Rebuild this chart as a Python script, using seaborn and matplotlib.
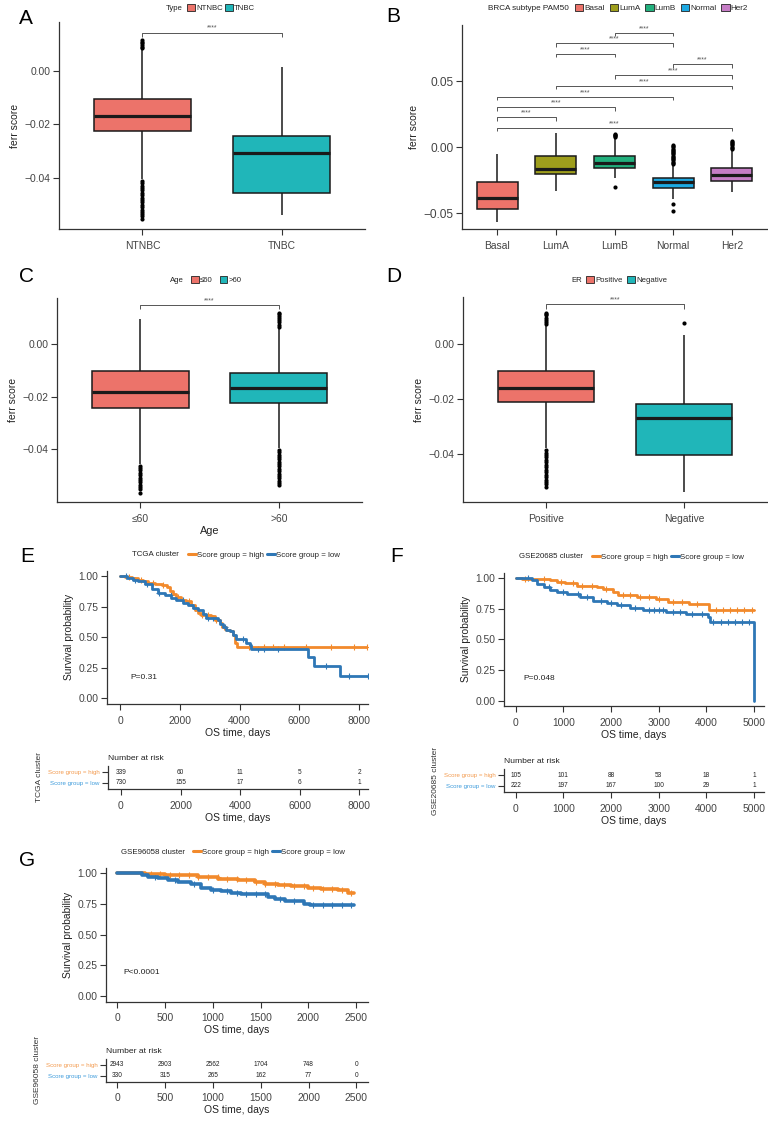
"""
Ferroptosis score across clinical groups and survival by score group.
Box panels A-D, Kaplan-Meier panels E-G with risk tables.
"""

# Libraries
import numpy as np
import pandas as pd
import seaborn as sns
import matplotlib.pyplot as plt
from matplotlib.patches import Patch
from matplotlib.lines import Line2D
from matplotlib.ticker import FuncFormatter

# Seaborn
sns.set_theme(style="ticks")
plt.rcParams["font.family"] = ["Liberation Sans", "DejaVu Sans"]

# ---------------------------------
# Data
# ---------------------------------
# A: TNBC status
type_groups = ["NTNBC", "TNBC"]
type_whislo = [-0.0405, -0.0540]
type_q1 = [-0.0225, -0.0458]
type_median = [-0.0169, -0.0307]
type_q3 = [-0.0105, -0.0244]
type_whishi = [0.0078, 0.0016]
type_outliers = {
    "NTNBC": [0.0086, 0.0092, 0.0098, 0.0104, 0.0110, 0.0116,
              -0.0412, -0.0421, -0.0430, -0.0439, -0.0448, -0.0457,
              -0.0466, -0.0475, -0.0484, -0.0493, -0.0502, -0.0511,
              -0.0520, -0.0529, -0.0538, -0.0546, -0.0556],
    "TNBC": [],
}

# B: PAM50 subtype
pam50_groups = ["Basal", "LumA", "LumB", "Normal", "Her2"]
pam50_whislo = [-0.0565, -0.0333, -0.0237, -0.0396, -0.0339]
pam50_q1 = [-0.0470, -0.0207, -0.0157, -0.0308, -0.0258]
pam50_median = [-0.0384, -0.0167, -0.0121, -0.0265, -0.0210]
pam50_q3 = [-0.0265, -0.0068, -0.0066, -0.0237, -0.0161]
pam50_whishi = [-0.0053, 0.0108, 0.0060, -0.0135, -0.0020]
pam50_outliers = {
    "LumB": [0.0076, 0.0082, 0.0088, 0.0094, 0.0099, -0.0300],
    "Normal": [-0.0128, -0.0119, -0.0110, -0.0101, -0.0092, -0.0083,
               -0.0074, -0.0065, -0.0056, -0.0047, -0.0038, -0.0029,
               -0.0020, -0.0011, -0.0002, 0.0007, 0.0014,
               -0.0432, -0.0483],
    "Her2": [-0.0012, -0.0004, 0.0004, 0.0012, 0.0020, 0.0028,
             0.0036, 0.0043],
}
pam50_pairs = [("Basal", "Her2"), ("Basal", "LumA"), ("Basal", "LumB"),
               ("Basal", "Normal"), ("LumA", "Her2"), ("LumB", "Her2"),
               ("Normal", "Her2"), ("LumA", "LumB"), ("LumA", "Normal"),
               ("LumB", "Normal")]
pam50_pair_y = [0.0146, 0.0225, 0.0301, 0.0381, 0.0462, 0.0543,
                0.0626, 0.0705, 0.0786, 0.0866]

# C: age
age_groups = ["≤60", ">60"]
age_whislo = [-0.0455, -0.0395]
age_q1 = [-0.0244, -0.0225]
age_median = [-0.0183, -0.0166]
age_q3 = [-0.0101, -0.0109]
age_whishi = [0.0097, 0.0062]
age_outliers = {
    "≤60": [-0.0462, -0.0471, -0.0480, -0.0489, -0.0498, -0.0507,
            -0.0516, -0.0525, -0.0534, -0.0543, -0.0551, -0.0564],
    ">60": [0.0066, 0.0074, 0.0082, 0.0090, 0.0098, 0.0106, 0.0113,
            0.0117, -0.0402, -0.0411, -0.0420, -0.0429, -0.0438,
            -0.0447, -0.0456, -0.0465, -0.0474, -0.0483, -0.0492,
            -0.0501, -0.0510, -0.0519, -0.0528, -0.0535],
}

# D: ER status
er_groups = ["Positive", "Negative"]
er_whislo = [-0.0380, -0.0539]
er_q1 = [-0.0211, -0.0403]
er_median = [-0.0160, -0.0270]
er_q3 = [-0.0098, -0.0218]
er_whishi = [0.0068, 0.0033]
er_outliers = {
    "Positive": [0.0072, 0.0080, 0.0088, 0.0096, 0.0104, 0.0110, 0.0114,
                 -0.0386, -0.0395, -0.0404, -0.0413, -0.0422, -0.0431,
                 -0.0440, -0.0449, -0.0458, -0.0467, -0.0476, -0.0485,
                 -0.0494, -0.0503, -0.0511, -0.0519],
    "Negative": [0.0076],
}

# E: TCGA survival curves
tcga_high_t = [0, 167, 389, 611, 778, 944, 1167, 1389, 1556, 1667, 1778,
               1889, 2056, 2222, 2367, 2500, 2611, 2722, 3056, 3167, 3333,
               3411, 3556, 3667, 3778, 3833, 3922, 8333]
tcga_high_s = [1.0, 0.995, 0.984, 0.965, 0.956, 0.943, 0.935, 0.924, 0.907,
               0.880, 0.853, 0.826, 0.807, 0.793, 0.760, 0.725, 0.698, 0.678,
               0.670, 0.643, 0.616, 0.580, 0.561, 0.548, 0.520, 0.452, 0.424,
               0.424]
tcga_high_cens = [300, 700, 1100, 1450, 1950, 2300, 2750, 2950, 3200, 3480,
                  4300, 4833, 5111, 5500, 6222, 7056, 7833, 8278]
tcga_low_t = [0, 222, 444, 611, 833, 1056, 1278, 1500, 1722, 1889, 2111,
              2278, 2444, 2611, 2778, 2889, 3278, 3333, 3444, 3556, 3667,
              3778, 3867, 4222, 4333, 4389, 6300, 6478, 7367, 8333]
tcga_low_s = [1.0, 0.986, 0.970, 0.956, 0.932, 0.891, 0.864, 0.842, 0.820,
              0.801, 0.782, 0.760, 0.738, 0.719, 0.692, 0.657, 0.643, 0.608,
              0.580, 0.561, 0.548, 0.520, 0.488, 0.452, 0.433, 0.403, 0.335,
              0.267, 0.180, 0.180]
tcga_low_cens = [200, 500, 900, 1300, 1700, 2100, 2500, 2950, 3100, 3500,
                 4100, 4600, 4833, 5278, 6900, 7667, 8300]
tcga_risk_times = [0, 2000, 4000, 6000, 8000]
tcga_risk_high = [339, 60, 11, 5, 2]
tcga_risk_low = [730, 155, 17, 6, 1]

# F: GSE20685 survival curves
g206_high_t = [0, 139, 729, 868, 1042, 1285, 1701, 1840, 2049, 2153, 2535,
               2951, 3194, 3646, 4049, 5000]
g206_high_s = [1.0, 0.992, 0.986, 0.973, 0.959, 0.940, 0.932, 0.912, 0.890,
               0.863, 0.849, 0.827, 0.803, 0.786, 0.740, 0.740]
g206_high_cens = [200, 600, 950, 1200, 1400, 1600, 1900, 2250, 2400, 2600,
                  2800, 3000, 3300, 3500, 3800, 4200, 4350, 4500, 4650, 4800,
                  4950]
g206_low_t = [0, 347, 451, 590, 729, 868, 1076, 1354, 1632, 1910, 2118,
              2396, 2674, 3160, 3576, 4028, 4076, 5000]
g206_low_s = [1.0, 0.986, 0.953, 0.926, 0.904, 0.888, 0.871, 0.844, 0.816,
              0.795, 0.778, 0.759, 0.740, 0.723, 0.707, 0.685, 0.644, 0.0]
g206_low_cens = [250, 700, 1000, 1300, 1500, 1800, 2000, 2200, 2500, 2800,
                 2900, 3000, 3100, 3300, 3450, 3700, 3900, 4150, 4300, 4450,
                 4600, 4750, 4900]
g206_risk_times = [0, 1000, 2000, 3000, 4000, 5000]
g206_risk_high = [105, 101, 88, 53, 18, 1]
g206_risk_low = [222, 197, 167, 100, 29, 1]

# G: GSE96058 survival curves
g960_high_t = [0, 289, 498, 672, 846, 1055, 1264, 1438, 1543, 1682, 1821,
               1995, 2134, 2309, 2396, 2413, 2476]
g960_high_s = [1.0, 0.997, 0.989, 0.984, 0.970, 0.957, 0.943, 0.929, 0.916,
               0.902, 0.894, 0.883, 0.875, 0.867, 0.861, 0.840, 0.840]
g960_high_cens = [350, 450, 550, 650, 750, 850, 950, 1050, 1150, 1250, 1350,
                  1450, 1550, 1650, 1750, 1850, 1950, 2050, 2150, 2250, 2350,
                  2450]
g960_low_t = [0, 254, 324, 428, 533, 637, 776, 881, 985, 1090, 1194, 1299,
              1577, 1647, 1751, 1960, 2013, 2483]
g960_low_s = [1.0, 0.984, 0.970, 0.962, 0.948, 0.929, 0.910, 0.883, 0.867,
              0.853, 0.840, 0.829, 0.807, 0.793, 0.774, 0.753, 0.739, 0.739]
g960_low_cens = [400, 600, 800, 1000, 1150, 1250, 1350, 1450, 1550, 1700,
                 1850, 2050, 2150, 2250, 2350, 2450]
g960_risk_times = [0, 500, 1000, 1500, 2000, 2500]
g960_risk_high = [2943, 2903, 2562, 1704, 748, 0]
g960_risk_low = [330, 315, 265, 162, 77, 0]

# Colours
red, teal = "#EC736A", "#20B6B9"
pam50_palette = ["#EC736A", "#9E9E1C", "#22B07D", "#1DA9E2", "#C67DC6"]
orange, blue = "#F28A2C", "#2E77B6"
orange_txt, blue_txt = "#F39A4E", "#3D9BDB"

# ---------------------------------
# Methods
# ---------------------------------
W, H = 768, 1121
fig = plt.figure(figsize=(W / 100, H / 100), dpi=100)


def fy(y):
    """Pixel row to figure fraction."""
    return 1 - y / H


def px_axes(left, top, right, bottom):
    return fig.add_axes([left / W, fy(bottom), (right - left) / W,
                         (bottom - top) / H])


def style_axes(ax, ytick_fs=7.4, xtick_fs=7.4):
    sns.despine(ax=ax)
    for s in ["left", "bottom"]:
        ax.spines[s].set_linewidth(0.9)
        ax.spines[s].set_color("#333333")
    ax.tick_params(length=4.3, width=0.8, color="#333333",
                   labelcolor="#444444")
    ax.tick_params(axis="y", labelsize=ytick_fs, pad=2)
    ax.tick_params(axis="x", labelsize=xtick_fs, pad=4)


minus_fmt = FuncFormatter(lambda x, pos: f"{x:.2f}".replace("-", "\u2212"))


def box_panel(ax, groups, whislo, q1, med, q3, whishi, outliers, palette,
              ylim, yticks, ytick_fs=7.4):
    summary = pd.DataFrame({"group": groups, "whislo": whislo, "q1": q1,
                            "median": med, "q3": q3, "whishi": whishi})
    long = summary.melt(id_vars="group", value_name="score")
    sns.boxplot(data=long, x="group", y="score", hue="group", order=groups,
                hue_order=groups, palette=palette, saturation=1, width=0.7,
                whis=(0, 100), showcaps=False, fliersize=0,
                linecolor="#1a1a1a", linewidth=1.1,
                medianprops={"linewidth": 2.3}, legend=False, ax=ax)
    out = pd.DataFrame([(g, v) for g, vals in outliers.items() for v in vals],
                       columns=["group", "score"])
    sns.stripplot(data=out, x="group", y="score", order=groups,
                  color="black", jitter=False, size=3.0, linewidth=0, ax=ax)
    ax.set_xlim(-0.6, len(groups) - 0.4)
    ax.set_ylim(*ylim)
    ax.set_yticks(yticks)
    ax.yaxis.set_major_formatter(minus_fmt)
    ax.set_xlabel("")
    ax.set_ylabel("ferr score", fontsize=7.5, color="#222222", labelpad=3)
    style_axes(ax, ytick_fs=ytick_fs)


def bracket(ax, x1, x2, y, tip, gap):
    ax.plot([x1, x1, x2, x2], [y - tip, y, y, y - tip], color="#555555",
            lw=0.7, solid_capstyle="butt")
    ax.text((x1 + x2) / 2, y + gap, "****", ha="center", va="bottom",
            fontsize=5, color="#555555")


def top_legend(title, labels, handles, title_x, key_x, y, fs, spacing=0.6):
    fig.text(title_x / W, fy(y), title, fontsize=fs, ha="left", va="center",
             color="#222222")
    fig.legend(handles, labels, loc="center left",
               bbox_to_anchor=(key_x / W, fy(y)), ncol=len(labels),
               frameon=False, fontsize=fs, handlelength=1.0,
               handleheight=1.0, handletextpad=0.15, columnspacing=spacing,
               borderpad=0, borderaxespad=0)


def box_keys(colors):
    return [Patch(facecolor=c, edgecolor="#222222", linewidth=0.6)
            for c in colors]


def step_value(times, surv, at):
    idx = np.searchsorted(times, at, side="right") - 1
    return np.asarray(surv)[idx]


def km_panel(ax, curves, xlim, xticks, p_text, p_pos, lw=2.0):
    for times, surv, cens, color in curves:
        sns.lineplot(x=times, y=surv, drawstyle="steps-post", color=color,
                     linewidth=lw, estimator=None, sort=False, ax=ax)
        sns.scatterplot(x=cens, y=step_value(times, surv, cens), marker="+",
                        color=color, s=16, linewidth=0.8, ax=ax)
    ax.set_xlim(*xlim)
    ax.set_ylim(-0.045, 1.045)
    ax.set_xticks(xticks)
    ax.set_yticks([0, 0.25, 0.5, 0.75, 1.0])
    ax.yaxis.set_major_formatter(minus_fmt)
    ax.text(p_pos[0], p_pos[1], p_text, fontsize=6, color="#222222",
            ha="left", va="center")
    ax.set_xlabel("OS time, days", fontsize=7.5, color="#222222",
                  labelpad=1.5)
    ax.set_ylabel("Survival probability", fontsize=7.4, color="#222222",
                  labelpad=3)
    style_axes(ax)


def risk_table(ax, times, high, low, xlim, xticks, cluster):
    for t, n in zip(times, high):
        ax.text(t, 1, str(n), ha="center", va="center", fontsize=4.7,
                color="#222222")
    for t, n in zip(times, low):
        ax.text(t, 0, str(n), ha="center", va="center", fontsize=4.7,
                color="#222222")
    ax.set_xlim(*xlim)
    ax.set_ylim(-0.55, 1.55)
    ax.set_xticks(xticks)
    ax.set_yticks([1, 0])
    ax.set_yticklabels(["Score group = high", "Score group = low"])
    style_axes(ax, ytick_fs=4.4)
    for lab, c in zip(ax.get_yticklabels(), [orange_txt, blue_txt]):
        lab.set_color(c)
    ax.set_title("Number at risk", loc="left", fontsize=6.1,
                 color="#222222", pad=4)
    ax.set_xlabel("OS time, days", fontsize=7.5, color="#222222",
                  labelpad=1.5)
    ax.set_ylabel(cluster, fontsize=6, color="#333333", labelpad=3)


# ---------------------------------
# Plot
# ---------------------------------
# A
ax_a = px_axes(59, 22, 365, 229)
box_panel(ax_a, type_groups, type_whislo, type_q1, type_median, type_q3,
          type_whishi, type_outliers, [red, teal], (-0.0593, 0.0184),
          [-0.04, -0.02, 0.0])
bracket(ax_a, 0, 1, 0.0144, 0.0017, 0.0003)
top_legend("Type", type_groups, box_keys([red, teal]), 166, 187, 8, 5.6,
           spacing=0.3)

# B
ax_b = px_axes(462, 25, 767, 229)
box_panel(ax_b, pam50_groups, pam50_whislo, pam50_q1, pam50_median,
          pam50_q3, pam50_whishi, pam50_outliers, pam50_palette,
          (-0.062, 0.0924), [-0.05, 0.0, 0.05], ytick_fs=8.6)
for (g1, g2), y in zip(pam50_pairs, pam50_pair_y):
    bracket(ax_b, pam50_groups.index(g1), pam50_groups.index(g2), y,
            0.0025, 0.0004)
top_legend("BRCA subtype PAM50", pam50_groups, box_keys(pam50_palette),
           488, 575, 8, 5.9, spacing=0.6)

# C
ax_c = px_axes(57, 298, 362, 502)
box_panel(ax_c, age_groups, age_whislo, age_q1, age_median, age_q3,
          age_whishi, age_outliers, [red, teal], (-0.060, 0.0175),
          [-0.04, -0.02, 0.0])
bracket(ax_c, 0, 1, 0.0148, 0.0016, 0.0003)
ax_c.set_xlabel("Age", fontsize=7.8, color="#222222", labelpad=2)
top_legend("Age", age_groups, box_keys([red, teal]), 170, 191, 280, 5.6,
           spacing=0.9)

# D
ax_d = px_axes(463, 297, 767, 502)
box_panel(ax_d, er_groups, er_whislo, er_q1, er_median, er_q3, er_whishi,
          er_outliers, [red, teal], (-0.0575, 0.0171), [-0.04, -0.02, 0.0])
bracket(ax_d, 0, 1, 0.0144, 0.0018, 0.0003)
top_legend("ER", er_groups, box_keys([red, teal]), 571, 586, 280, 5.6,
           spacing=0.6)

# E
km_keys = [Line2D([], [], color=orange, lw=2.2),
           Line2D([], [], color=blue, lw=2.2)]
km_labels = ["Score group = high", "Score group = low"]

ax_e = px_axes(107, 570.5, 368, 704)
km_panel(ax_e, [(tcga_high_t, tcga_high_s, tcga_high_cens, orange),
                (tcga_low_t, tcga_low_s, tcga_low_cens, blue)],
         (-435, 8295), tcga_risk_times, "P=0.31", (334, 0.174))
top_legend("TCGA cluster", km_labels, km_keys, 132, 188, 555, 5.7,
           spacing=0.35)
ax_er = px_axes(108, 766, 368, 789)
risk_table(ax_er, tcga_risk_times, tcga_risk_high, tcga_risk_low,
           (-435, 8295), tcga_risk_times, "TCGA cluster")

# F
ax_f = px_axes(504, 572.8, 764, 706)
km_panel(ax_f, [(g206_high_t, g206_high_s, g206_high_cens, orange),
                (g206_low_t, g206_low_s, g206_low_cens, blue)],
         (-245, 5210), g206_risk_times, "P=0.048", (153, 0.178))
top_legend("GSE20685 cluster", km_labels, km_keys, 519, 592, 557, 5.7,
           spacing=0.35)
ax_fr = px_axes(504, 769, 764, 792)
risk_table(ax_fr, g206_risk_times, g206_risk_high, g206_risk_low,
           (-245, 5210), g206_risk_times, "GSE20685 cluster")

# G
ax_g = px_axes(106, 867.8, 367.7, 1001.5)
km_panel(ax_g, [(g960_high_t, g960_high_s, g960_high_cens, orange),
                (g960_low_t, g960_low_s, g960_low_cens, blue)],
         (-118, 2622), g960_risk_times, "P<0.0001", (60, 0.19), lw=2.6)
top_legend("GSE96058 cluster", km_labels, km_keys, 121, 193, 852, 5.7,
           spacing=0.35)
ax_gr = px_axes(106, 1058.7, 368, 1081.7)
risk_table(ax_gr, g960_risk_times, g960_risk_high, g960_risk_low,
           (-118, 2622), g960_risk_times, "GSE96058 cluster")

# Panel letters
for letter, x, y in [("A", 26, 18), ("B", 393, 16), ("C", 26, 276),
                     ("D", 394, 276), ("E", 27, 557), ("F", 397, 556),
                     ("G", 27, 860)]:
    fig.text(x / W, fy(y), letter, fontsize=15, ha="center", va="center",
             color="black")

# Save
fig.savefig("out.png", dpi=100)
